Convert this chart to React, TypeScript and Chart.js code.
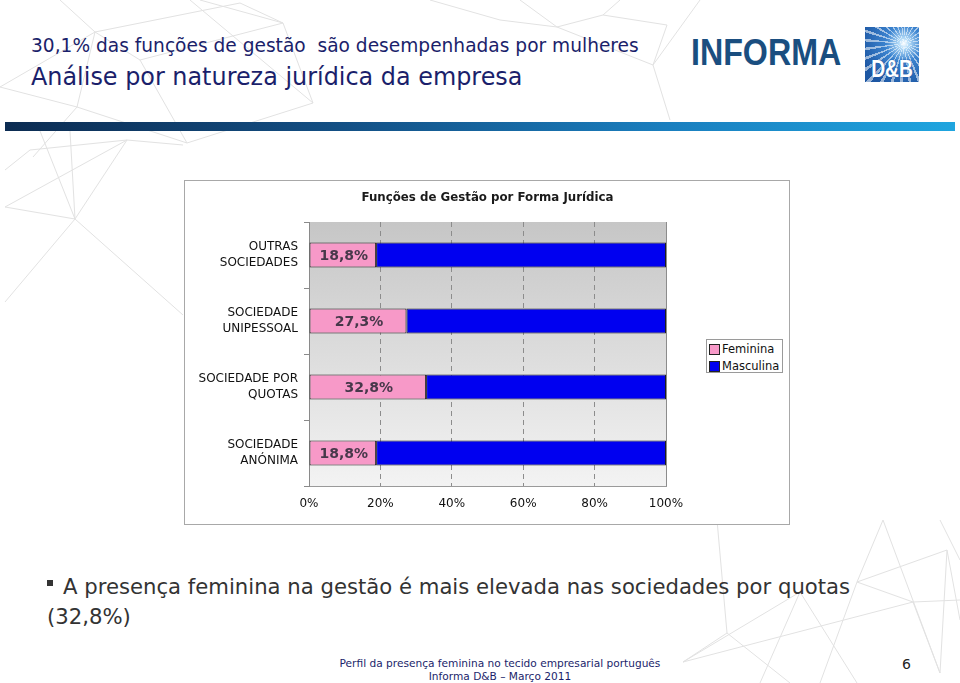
import React, { useEffect, useRef } from 'react';
import { Chart, registerables } from 'chart.js';

Chart.register(...registerables);

const headline = '30,1% das funções de gestão  são desempenhadas por mulheres';
const subtitle = 'Análise por natureza jurídica da empresa';
const chartTitle = 'Funções de Gestão por Forma Jurídica';
const categories: string[][] = [
  ['OUTRAS', 'SOCIEDADES'],
  ['SOCIEDADE', 'UNIPESSOAL'],
  ['SOCIEDADE POR', 'QUOTAS'],
  ['SOCIEDADE', 'ANÓNIMA'],
];
const seriesNames = ['Feminina', 'Masculina'];
const feminina = [18.8, 27.3, 32.8, 18.8];
const masculina = [81.2, 72.7, 67.2, 81.2];
const xMin = 0;
const xMax = 100;
const xStep = 20;
const bulletText = 'A presença feminina na gestão é mais elevada nas sociedades por quotas (32,8%)';
const footerLines = ['Perfil da presença feminina no tecido empresarial português', 'Informa D&B – Março 2011'];
const pageNumber = '6';

const PINK = '#f799c8';
const BLUE = '#0000f0';
const DV = '"DejaVu Sans", Verdana, sans-serif';

// decorative background network (page ornament, not data)
const netLines: number[][] = [
  [0, 87, 95, 32], [95, 32, 240, 3], [95, 32, 77, 107], [77, 107, 0, 87], [77, 107, 187, 143],
  [187, 143, 313, 103], [313, 103, 283, 23], [283, 23, 240, 3], [283, 23, 200, 0], [313, 103, 190, 0],
  [33, 157, 77, 107], [95, 32, 60, 0], [187, 143, 140, 60], [140, 60, 95, 32], [140, 60, 283, 23],
  [127, 140, 75, 219], [75, 219, 5, 207], [5, 207, 127, 140], [75, 219, 5, 302], [75, 219, 183, 315],
  [30, 150, 127, 140], [127, 140, 183, 145], [75, 219, 40, 131], [75, 219, 70, 131], [30, 150, 5, 170],
  [557, 27, 603, 15], [603, 15, 667, 25], [557, 27, 520, 0], [603, 15, 620, 0], [667, 25, 653, 65],
  [653, 65, 670, 120], [653, 65, 700, 0], [557, 27, 653, 65], [430, 0, 500, 20], [500, 20, 557, 27],
  [717, 520, 727, 633], [727, 633, 683, 662], [683, 662, 913, 602], [727, 633, 790, 683], [800, 592, 857, 683],
  [800, 592, 760, 683], [857, 582, 947, 550], [857, 582, 913, 602], [913, 602, 940, 673], [883, 520, 857, 582],
  [883, 520, 940, 673], [940, 520, 960, 560], [947, 550, 960, 620], [800, 592, 683, 662], [857, 582, 820, 683],
  [913, 602, 960, 600], [947, 550, 940, 673],
];

const plotBg = {
  id: 'plotBg',
  beforeDraw(chart: any) {
    const { ctx, chartArea } = chart;
    if (!chartArea) return;
    const g = ctx.createLinearGradient(0, chartArea.top, 0, chartArea.bottom);
    g.addColorStop(0, '#c6c6c6');
    g.addColorStop(1, '#f3f3f3');
    ctx.save();
    ctx.fillStyle = g;
    ctx.fillRect(chartArea.left, chartArea.top, chartArea.right - chartArea.left, chartArea.bottom - chartArea.top);
    ctx.restore();
  },
};

const titlePlugin = {
  id: 'centerTitle',
  afterDraw(chart: any) {
    const { ctx, chartArea } = chart;
    ctx.save();
    ctx.font = 'bold 11.8px ' + DV;
    ctx.fillStyle = '#1a1a1a';
    ctx.textAlign = 'center';
    ctx.textBaseline = 'middle';
    ctx.fillText(chartTitle, (chartArea.left + chartArea.right) / 2, 17);
    ctx.restore();
  },
};

const valueLabels = {
  id: 'valueLabels',
  afterDatasetsDraw(chart: any) {
    const { ctx } = chart;
    const meta = chart.getDatasetMeta(0);
    ctx.save();
    ctx.font = 'bold 14px ' + DV;
    ctx.fillStyle = '#47384a';
    ctx.textAlign = 'center';
    ctx.textBaseline = 'middle';
    meta.data.forEach((bar: any, i: number) => {
      const p = bar.getProps(['x', 'y', 'base'], true);
      const txt = feminina[i].toFixed(1).replace('.', ',') + '%';
      ctx.fillText(txt, (p.x + p.base) / 2 + 1, p.y + 1);
    });
    ctx.restore();
  },
};

function BarChart() {
  const ref = useRef<HTMLCanvasElement>(null);
  useEffect(() => {
    if (!ref.current) return;
    const chart = new Chart(ref.current, {
      type: 'bar',
      data: {
        labels: categories as any,
        datasets: [
          { label: seriesNames[0], data: feminina, backgroundColor: PINK, borderColor: '#1e1e1e', borderWidth: 1, borderSkipped: false, barPercentage: 0.38, categoryPercentage: 1 },
          { label: seriesNames[1], data: masculina, backgroundColor: BLUE, borderColor: '#1e1e1e', borderWidth: 1, borderSkipped: false, barPercentage: 0.38, categoryPercentage: 1 },
        ],
      },
      options: {
        indexAxis: 'y',
        animation: false,
        responsive: false,
        devicePixelRatio: 1,
        layout: { padding: { top: 41, right: 123, left: 0, bottom: 0 } },
        plugins: {
          legend: { display: false },
          title: { display: false },
          tooltip: { enabled: false },
        },
        scales: {
          x: {
            stacked: true,
            min: xMin,
            max: xMax,
            ticks: {
              stepSize: xStep,
              callback: (v: any) => v + '%',
              color: '#111',
              font: { family: DV, size: 12 },
              padding: 11,
            },
            grid: {
              color: '#8c8c8c',
              lineWidth: 1,
              drawTicks: false,
            },
            border: {
              display: true,
              color: '#9a9a9a',
              dash: (ctx: any) => (ctx.index === 0 || ctx.index === 5 ? [] : [5, 4]),
            } as any,
            afterFit: (s: any) => { s.height = 38; },
          },
          y: {
            stacked: true,
            ticks: {
              color: '#111',
              font: { family: DV, size: 12, lineHeight: 1.33 },
              padding: 6,
            },
            grid: {
              drawOnChartArea: false,
              drawTicks: true,
              tickLength: 5,
              color: '#8a8a8a',
              offset: true,
            },
            border: { display: true, color: '#8a8a8a' },
            afterFit: (s: any) => { s.width = 124; },
          },
        },
      },
      plugins: [plotBg, valueLabels, titlePlugin],
    });
    return () => chart.destroy();
  }, []);
  return <canvas ref={ref} width={604} height={343} style={{ display: 'block', width: 604, height: 343 }} />;
}

export default function App() {
  return (
    <div style={{ position: 'absolute', left: 0, top: 0, width: 960, height: 683, overflow: 'hidden', background: '#fff', fontFamily: DV }}>
      <svg width={960} height={683} style={{ position: 'absolute', left: 0, top: 0 }}>
        {netLines.map((l, i) => (
          <line key={i} x1={l[0]} y1={l[1]} x2={l[2]} y2={l[3]} stroke="#e2e2e2" strokeWidth={1} />
        ))}
      </svg>

      <div style={{ position: 'absolute', left: 31, top: 34, fontSize: 18.6, color: '#1b1f6b', whiteSpace: 'pre', lineHeight: '24px' }}>{headline}</div>
      <div style={{ position: 'absolute', left: 31, top: 62, fontSize: 23.9, color: '#1b1f6b', whiteSpace: 'pre', lineHeight: '30px' }}>{subtitle}</div>

      <div style={{ position: 'absolute', left: 691, top: 31, fontFamily: '"Liberation Sans", Arial, sans-serif', fontSize: 37, fontWeight: 'bold', color: '#1a4e80', transform: 'scaleX(0.87)', transformOrigin: 'left top', lineHeight: '44px' }}>INFORMA</div>
      <div style={{ position: 'absolute', left: 865, top: 27, width: 54, height: 55, overflow: 'hidden',
        background: 'repeating-conic-gradient(from 0deg at 72% 30%, rgba(255,255,255,0.55) 0deg 4deg, rgba(255,255,255,0) 4deg 13deg), radial-gradient(circle at 72% 30%, #ffffff 0px, #b5dcf8 5px, #3b83cf 18px, #1d57a3 45px)' }}>
        <div style={{ position: 'absolute', left: 0, right: 0, bottom: 0, textAlign: 'center', color: '#fff', fontFamily: '"Liberation Sans", Arial, sans-serif', fontWeight: 'bold', fontSize: 24, lineHeight: '26px', transform: 'scaleX(0.8)', textShadow: '0 0 2px #1d57a3' }}>D&amp;B</div>
      </div>

      <div style={{ position: 'absolute', left: 5, top: 122, width: 950, height: 9, background: 'linear-gradient(90deg, #0c2c52 0%, #134f84 35%, #1a7fbf 70%, #1fa5df 100%)' }} />

      <div style={{ position: 'absolute', left: 184, top: 180, width: 604, height: 343, border: '1px solid #a8a8a8', background: '#fff' }}>
        <BarChart />
      </div>

      <div style={{ position: 'absolute', left: 706, top: 339, width: 75, height: 32, border: '1px solid #9a9a9a', background: '#fff', fontFamily: DV, fontSize: 11.5, color: '#111' }}>
        {seriesNames.map((n, i) => (
          <div key={n} style={{ position: 'absolute', left: 2, top: 2 + i * 17, height: 14, display: 'flex', alignItems: 'center' }}>
            <span style={{ display: 'inline-block', width: 9, height: 9, background: i === 0 ? PINK : BLUE, border: '1px solid #222', marginRight: 2 }} />
            <span>{n}</span>
          </div>
        ))}
      </div>

      <div style={{ position: 'absolute', left: 47, top: 572, width: 823, fontSize: 21.2, lineHeight: '30px', color: '#333' }}>
        <span style={{ display: 'inline-block', width: 6, height: 6, background: '#333', verticalAlign: 'middle', marginRight: 10, position: 'relative', top: -5 }} />
        {bulletText}
      </div>

      <div style={{ position: 'absolute', left: 300, top: 657, width: 400, textAlign: 'center', fontSize: 10.6, lineHeight: '13px', color: '#1b1f6b' }}>
        {footerLines.map((l) => <div key={l}>{l}</div>)}
      </div>
      <div style={{ position: 'absolute', left: 902, top: 656, fontSize: 14, color: '#222' }}>{pageNumber}</div>
    </div>
  );
}
